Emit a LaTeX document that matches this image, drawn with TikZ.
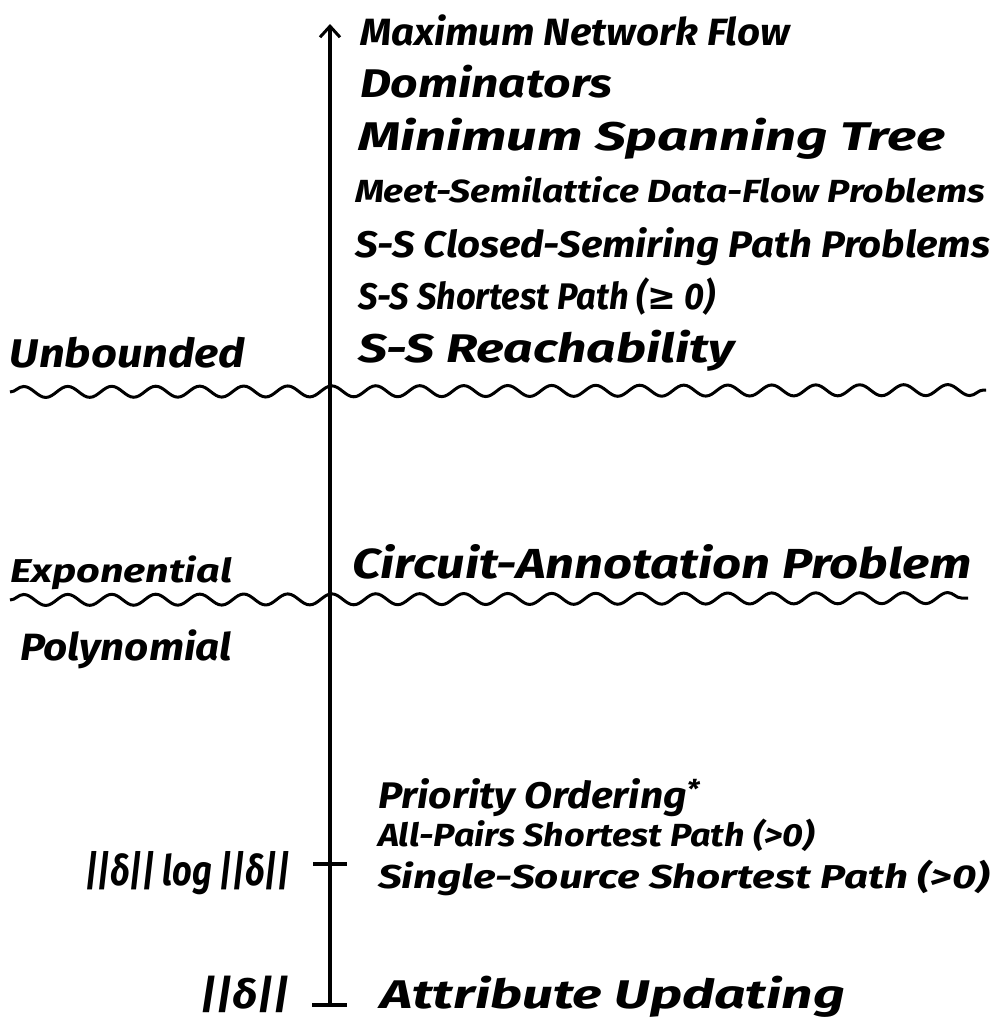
\documentclass[tikz,border=0pt]{standalone}
\usepackage{fontspec}
\usepackage{graphicx}
\setmainfont{Fira Sans}
\newfontfamily\symfont{DejaVu Sans}
\usetikzlibrary{arrows.meta,decorations.pathmorphing}

% set #3 at font size #2 and stretch it horizontally to width #1
\newcommand\wtext[3]{\fontsize{#2}{#2}\selectfont\bfseries\itshape\resizebox{#1}{\height}{#3}}

\tikzset{
  lab/.style={anchor=base west,inner sep=0pt,outer sep=0pt},
  axisline/.style={line width=3.6pt},
  tickline/.style={line width=3.6pt},
  wave/.style={line width=3pt,decorate,
    decoration={snake,segment length=44pt,amplitude=5.5pt}},
}

\begin{document}
\begin{tikzpicture}[x=1pt,y=-1pt]
\useasboundingbox (0,0) rectangle (997,1023);

% vertical axis with ticks
\coordinate (axbot) at (330,1005);
\coordinate (axtop) at (330,24);
\draw[axisline,-{Straight Barb[length=11pt,width=20pt,line width=3pt]}] (axbot) -- (axtop);
\coordinate (t1l) at (312,1005);
\coordinate (t1r) at (347,1005);
\draw[tickline] (t1l) -- (t1r);
\coordinate (t2l) at (313,864);
\coordinate (t2r) at (347,864);
\draw[tickline] (t2l) -- (t2r);

% wavy boundaries
\coordinate (w1a) at (10,392);
\coordinate (w1b) at (986,390);
\draw[wave] (w1a) -- (w1b);
\coordinate (w2a) at (10,600);
\coordinate (w2b) at (968,598);
\draw[wave] (w2a) -- (w2b);

% problems, above the boundary
\node[lab] (maxflow) at (360,45) {\wtext{430pt}{38}{Maximum Network Flow}};
\node[lab] (dom) at (360,97) {\wtext{252pt}{40}{Dominators}};
\node[lab] (mst) at (358,150) {\wtext{587pt}{40}{Minimum Spanning Tree}};
\node[lab] (meet) at (355,202) {\wtext{630pt}{32}{Meet-Semilattice Data-Flow Problems}};
\node[lab] (closed) at (355,257) {\wtext{635pt}{37}{S-S Closed-Semiring Path Problems}};
\node[lab] (ssp) at (358,309) {\wtext{357pt}{37}{S-S Shortest Path ({\symfont ≥} 0)}};
\node[lab] (reach) at (358,362) {\wtext{377pt}{40}{S-S Reachability}};

% left labels
\node[lab] (unb) at (10,367) {\wtext{235pt}{40}{Unbounded}};
\node[lab] (expo) at (10,582) {\wtext{222pt}{33}{Exponential}};
\node[lab] (poly) at (20,660) {\wtext{212pt}{38}{Polynomial}};
\node[lab] (nlogn) at (85,885) {\wtext{205pt}{42}{||δ|| log ||δ||}};
\node[lab] (n) at (200,1008) {\wtext{90pt}{40}{||δ||}};

% problems, between and below
\node[lab] (circ) at (352,578) {\wtext{620pt}{42}{Circuit-Annotation Problem}};
\node[lab] (prio) at (378,808) {\wtext{322pt}{37}{Priority Ordering\textsuperscript{*}}};
\node[lab] (apsp) at (378,846) {\wtext{437pt}{32}{All-Pairs Shortest Path (>0)}};
\node[lab] (sssp) at (378,888) {\wtext{612pt}{33}{Single-Source Shortest Path (>0)}};
\node[lab] (attr) at (380,1008) {\wtext{465pt}{40}{Attribute Updating}};
\end{tikzpicture}
\end{document}
